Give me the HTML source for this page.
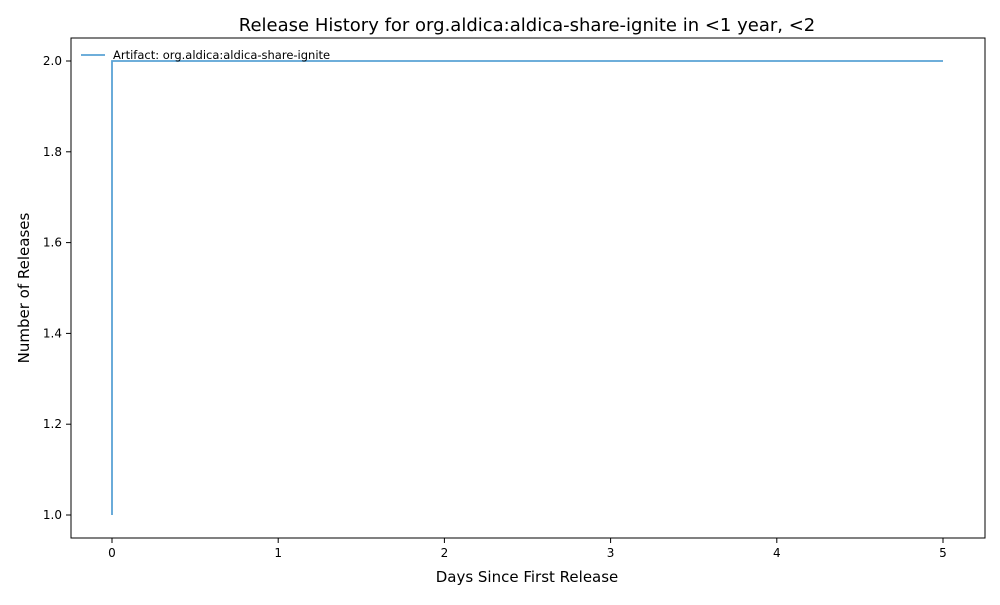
<!DOCTYPE html>
<html><head><meta charset="utf-8"><style>
body{margin:0;background:#fff;font-family:"Liberation Sans","DejaVu Sans",sans-serif;}
svg text{font-family:"DejaVu Sans","Liberation Sans",sans-serif;}
</style></head><body>
<svg id="chart" width="1000" height="600" xmlns="http://www.w3.org/2000/svg">
<rect x="0" y="0" width="1000" height="600" fill="#fff"/>
<text x="527" y="31" font-size="18" text-anchor="middle">Release History for org.aldica:aldica-share-ignite in &lt;1 year, &lt;2</text>
<g id="xticks"></g><g id="yticks"></g><g id="series"></g>
<rect x="71" y="38" width="914" height="500" fill="none" stroke="#000" stroke-width="1"/>
<text x="527" y="582" font-size="15" text-anchor="middle">Days Since First Release</text>
<text transform="translate(29,288) rotate(-90)" font-size="15" text-anchor="middle">Number of Releases</text>
<g>
<line x1="81" y1="55" x2="105" y2="55" stroke="#5aa2d5" stroke-width="1.8"/>
<text x="113" y="59" font-size="11.5">Artifact: org.aldica:aldica-share-ignite</text>
</g>
</svg>
<script>
const xTicks=[0,1,2,3,4,5];
const yTicks=[1.0,1.2,1.4,1.6,1.8,2.0];
const days=[0,0,5];
const releases=[1,2,2];
const NS="http://www.w3.org/2000/svg";
function xs(v){return 112+v*(943-112)/5;}
function ys(v){return 515-(v-1)*(515-61);}
function mk(t,a,p){const e=document.createElementNS(NS,t);for(const k in a)e.setAttribute(k,a[k]);p.appendChild(e);return e;}
const gx=document.getElementById('xticks'),gy=document.getElementById('yticks'),gs=document.getElementById('series');
xTicks.forEach(v=>{
 const l=mk('line',{x1:xs(v),x2:xs(v),y1:538,y2:543,stroke:'#000'},gx);
 
 
 const t=mk('text',{x:xs(v),y:557,'font-size':12,'text-anchor':'middle'},gx);t.textContent=v;
 
 
});
yTicks.forEach(v=>{
 const l=mk('line',{x1:66,x2:71,y1:ys(v),y2:ys(v),stroke:'#000'},gy);
 
 
 const t=mk('text',{x:62,y:ys(v)+4,'font-size':12,'text-anchor':'end'},gy);t.textContent=v.toFixed(1);
 
 
});
let d='';
for(let i=0;i<days.length;i++){d+=(i?'L':'M')+xs(days[i])+' '+ys(releases[i]);}
const p=mk('path',{d:d,fill:'none',stroke:'#5aa2d5','stroke-width':1.8},gs);


</script>
</body></html>
